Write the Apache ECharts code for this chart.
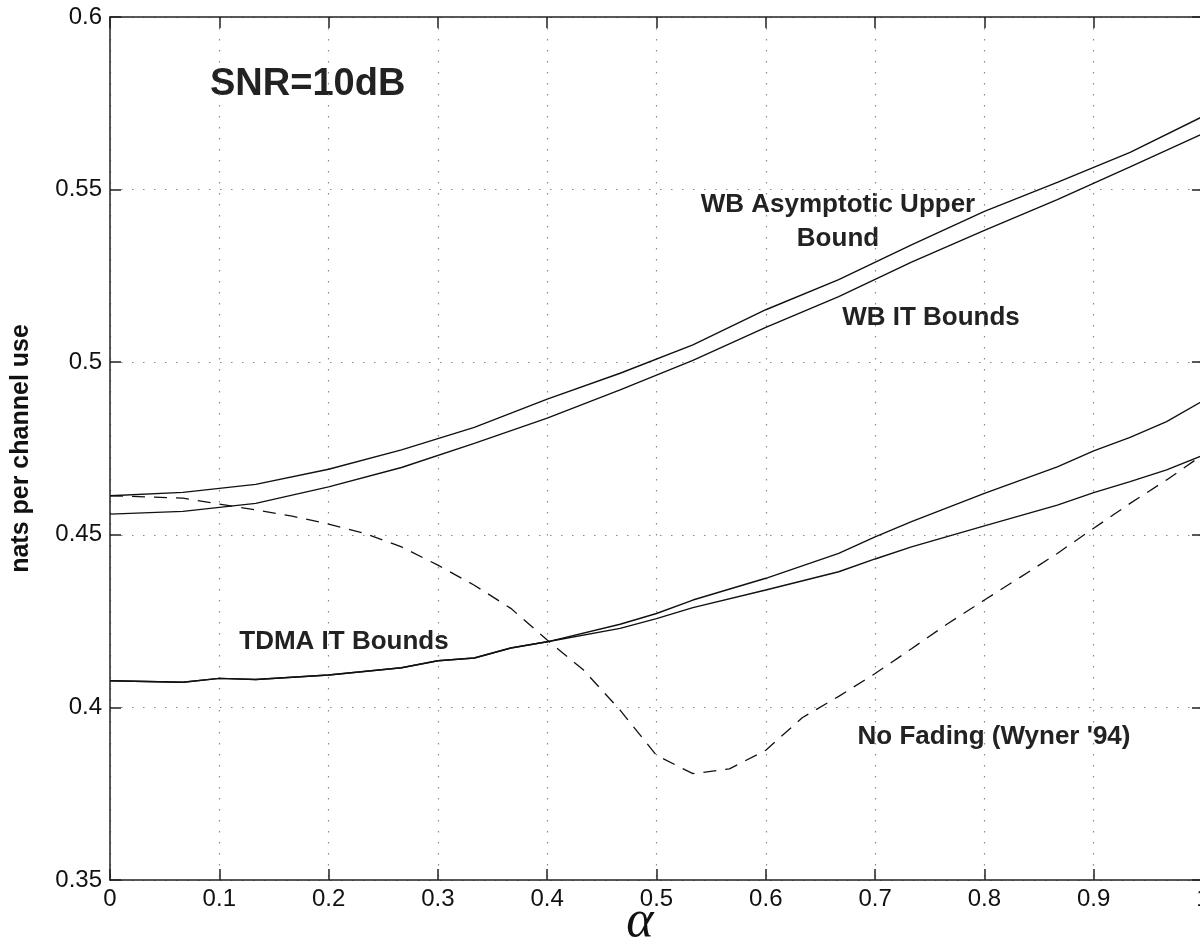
<!DOCTYPE html>
<html>
<head>
<meta charset="utf-8">
<script src="https://cdn.jsdelivr.net/npm/echarts@6/dist/echarts.min.js"></script>
<style>html,body{margin:0;padding:0;background:#fff;}#c{width:1200px;height:947px;}</style>
</head>
<body>
<div id="c"></div>
<script>
// ---- data ----
const xTicks = [0, 0.1, 0.2, 0.3, 0.4, 0.5, 0.6, 0.7, 0.8, 0.9, 1];
const yTicks = [0.35, 0.4, 0.45, 0.5, 0.55, 0.6];

const alphaWB = [0, 0.0667, 0.1333, 0.2, 0.2667, 0.3333, 0.4, 0.4667, 0.5333, 0.6, 0.6667, 0.7333, 0.8, 0.8667, 0.9333, 1.0];
const wbAsymUpper = [0.4613, 0.4623, 0.4646, 0.4690, 0.4746, 0.4811, 0.4893, 0.4968, 0.5050, 0.5152, 0.5239, 0.5340, 0.5437, 0.5521, 0.5608, 0.5712];
const wbIT = [0.4560, 0.4568, 0.4591, 0.4639, 0.4695, 0.4765, 0.4838, 0.4920, 0.5005, 0.5101, 0.5190, 0.5290, 0.5382, 0.5471, 0.5566, 0.5662];

const alphaTDMA = [0, 0.0667, 0.1, 0.1333, 0.2, 0.2667, 0.3, 0.3333, 0.3667, 0.4, 0.4667, 0.5, 0.5333, 0.6, 0.6667, 0.7, 0.7333, 0.8, 0.8667, 0.9, 0.9333, 0.9667, 1.0];
const tdmaUpper = [0.4077, 0.4073, 0.4084, 0.4081, 0.4094, 0.4115, 0.4135, 0.4143, 0.4172, 0.4190, 0.4241, 0.4272, 0.4311, 0.4374, 0.4446, 0.4494, 0.4538, 0.4620, 0.4697, 0.4743, 0.4782, 0.4828, 0.4888];
const tdmaLower = [0.4077, 0.4073, 0.4084, 0.4081, 0.4094, 0.4115, 0.4135, 0.4143, 0.4172, 0.4190, 0.4229, 0.4257, 0.4289, 0.4340, 0.4393, 0.4430, 0.4465, 0.4526, 0.4586, 0.4622, 0.4654, 0.4688, 0.4730];

const alphaFine = [0, 0.0333, 0.0667, 0.1, 0.1333, 0.1667, 0.2, 0.2333, 0.2667, 0.3, 0.3333, 0.3667, 0.4, 0.4333, 0.4667, 0.5, 0.5333, 0.5667, 0.6, 0.6333, 0.6667, 0.7, 0.7333, 0.7667, 0.8, 0.8333, 0.8667, 0.9, 0.9333, 0.9667, 1.0];
const noFading = [0.4613, 0.4610, 0.4606, 0.4589, 0.4572, 0.4554, 0.4531, 0.4504, 0.4465, 0.4412, 0.4354, 0.4287, 0.4195, 0.4108, 0.3992, 0.3861, 0.3808, 0.3822, 0.3876, 0.3970, 0.4032, 0.4098, 0.4170, 0.4243, 0.4311, 0.4378, 0.4446, 0.4519, 0.4591, 0.4659, 0.4732];

const labels = {
  snr: 'SNR=10dB',
  wbUpper1: 'WB Asymptotic Upper',
  wbUpper2: 'Bound',
  wbIT: 'WB IT Bounds',
  tdma: 'TDMA IT Bounds',
  noFade: "No Fading (Wyner '94)",
  xName: 'α',
  yName: 'nats per channel use'
};

const zip = (xs, ys) => xs.map((x, i) => [x, ys[i]]);

const chart = echarts.init(document.getElementById('c'), null, {renderer: 'canvas'});
const FONT = '"Liberation Sans", Arial, Helvetica, sans-serif';
const axisLineStyle = {color: '#222', width: 1.5};
const gridDots = {show: true, lineStyle: {color: '#8a8a8a', width: 1.2, type: [1.5, 9.5]}};

const lineBase = {type: 'line', showSymbol: false, symbol: 'none', silent: true, animation: false, smooth: false, clip: true};

chart.setOption({
  backgroundColor: '#ffffff',
  animation: false,
  grid: {left: 110, right: -3, top: 17, bottom: 67, containLabel: false, outerBoundsMode: 'none'},
  xAxis: [{
    type: 'value', min: 0, max: 1, interval: 0.1, position: 'bottom',
    axisLine: {show: true, onZero: false, lineStyle: axisLineStyle},
    axisTick: {show: true, inside: true, length: 11, lineStyle: axisLineStyle},
    axisLabel: {show: true, color: '#111', fontSize: 24, fontFamily: FONT, margin: 7,
      formatter: v => String(Math.round(v * 10) / 10)},
    splitLine: gridDots
  }, {
    type: 'value', min: 0, max: 1, interval: 0.1, position: 'top',
    axisLine: {show: true, onZero: false, lineStyle: axisLineStyle},
    axisTick: {show: true, inside: true, length: 11, lineStyle: axisLineStyle},
    axisLabel: {show: false}, splitLine: {show: false}
  }],
  yAxis: [{
    type: 'value', min: 0.35, max: 0.6, interval: 0.05, position: 'left',
    axisLine: {show: true, onZero: false, lineStyle: axisLineStyle},
    axisTick: {show: true, inside: true, length: 11, lineStyle: axisLineStyle},
    axisLabel: {show: true, color: '#111', fontSize: 24, fontFamily: FONT, margin: 8,
      formatter: v => String(Math.round(v * 100) / 100)},
    splitLine: gridDots,
    name: labels.yName, nameLocation: 'middle', nameGap: 76, nameRotate: 90,
    nameTextStyle: {fontFamily: FONT, fontWeight: 'bold', fontSize: 25, color: '#111'}
  }, {
    type: 'value', min: 0.35, max: 0.6, interval: 0.05, position: 'right',
    axisLine: {show: true, onZero: false, lineStyle: axisLineStyle},
    axisTick: {show: true, inside: true, length: 11, lineStyle: axisLineStyle},
    axisLabel: {show: false}, splitLine: {show: false}
  }],
  series: [
    Object.assign({}, lineBase, {name: 'WB Asymptotic Upper Bound', data: zip(alphaWB, wbAsymUpper), lineStyle: {color: '#111', width: 1.4}}),
    Object.assign({}, lineBase, {name: 'WB IT Bounds', data: zip(alphaWB, wbIT), lineStyle: {color: '#111', width: 1.4}}),
    Object.assign({}, lineBase, {name: 'TDMA IT Upper', data: zip(alphaTDMA, tdmaUpper), lineStyle: {color: '#111', width: 1.4}}),
    Object.assign({}, lineBase, {name: 'TDMA IT Lower', data: zip(alphaTDMA, tdmaLower), lineStyle: {color: '#111', width: 1.4}}),
    Object.assign({}, lineBase, {name: 'No Fading', data: zip(alphaFine, noFading), lineStyle: {color: '#111', width: 1.3, type: [13, 9]}})
  ],
  graphic: [
    {type: 'text', left: 210, top: 66, style: {text: labels.snr, font: 'bold 38px ' + FONT, fill: '#222'}},
    {type: 'text', x: 838, y: 205, style: {text: labels.wbUpper1, font: 'bold 26px ' + FONT, fill: '#222', align: 'center', verticalAlign: 'middle'}},
    {type: 'text', x: 838, y: 239, style: {text: labels.wbUpper2, font: 'bold 26px ' + FONT, fill: '#222', align: 'center', verticalAlign: 'middle'}},
    {type: 'text', x: 931, y: 318, style: {text: labels.wbIT, font: 'bold 26px ' + FONT, fill: '#222', align: 'center', verticalAlign: 'middle'}},
    {type: 'text', x: 344, y: 642, style: {text: labels.tdma, font: 'bold 26px ' + FONT, fill: '#222', align: 'center', verticalAlign: 'middle'}},
    {type: 'text', x: 994, y: 737, style: {text: labels.noFade, font: 'bold 26px ' + FONT, fill: '#222', align: 'center', verticalAlign: 'middle'}},
    {type: 'text', x: 640, y: 922, style: {text: labels.xName, font: 'italic 52px "Liberation Serif", "DejaVu Serif", serif', fill: '#111', align: 'center', verticalAlign: 'middle'}}
  ]
});
</script>
</body>
</html>
